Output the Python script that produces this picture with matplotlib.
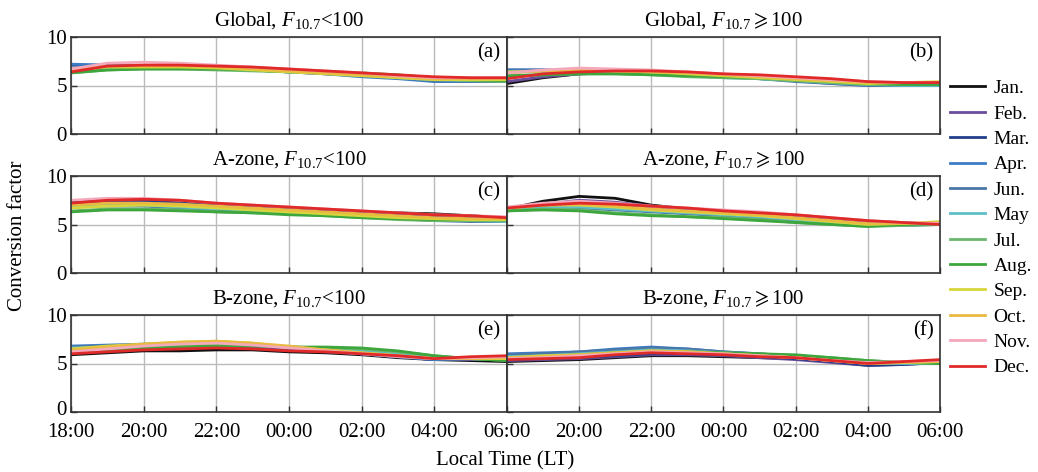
import numpy as np
import matplotlib
matplotlib.use("Agg")
import matplotlib.pyplot as plt
import matplotlib.transforms as mtransforms

plt.rcParams['font.family'] = ['Liberation Serif', 'DejaVu Serif', 'DejaVu Sans']
plt.rcParams['mathtext.fontset'] = 'custom'
plt.rcParams['mathtext.rm'] = 'Liberation Serif'
plt.rcParams['mathtext.it'] = 'Liberation Serif:italic'
plt.rcParams['mathtext.fallback'] = 'stix'

# local time in hours after 18:00 (24 = midnight)
hours = [18, 19, 20, 21, 22, 23, 24, 25, 26, 27, 28, 29, 30]
tick_hours = [18, 20, 22, 24, 26, 28, 30]
tick_labels = ["18:00", "20:00", "22:00", "00:00", "02:00", "04:00", "06:00"]

months = ["Jan.", "Feb.", "Mar.", "Apr.", "Jun.", "May", "Jul.", "Aug.",
          "Sep.", "Oct.", "Nov.", "Dec."]
colors = ["#111111", "#6a4c9c", "#233f8c", "#3b7cc4", "#4a77a6", "#5fbfc9",
          "#6cb86e", "#3da63d", "#d6d63c", "#e9b940", "#f4a8bb", "#e02a2a"]

titles = ["Global, $F_{\\rm 10.7}$<100", "Global, $F_{\\rm 10.7}\\geqslant$100",
          "A-zone, $F_{\\rm 10.7}$<100", "A-zone, $F_{\\rm 10.7}\\geqslant$100",
          "B-zone, $F_{\\rm 10.7}$<100", "B-zone, $F_{\\rm 10.7}\\geqslant$100"]
letters = ["(a)", "(b)", "(c)", "(d)", "(e)", "(f)"]

# conversion factors, one row per month (order as in legend)
global_low = [
    [6.4, 6.9, 7.0, 7.0, 6.9, 6.8, 6.6, 6.4, 6.2, 6.0, 5.8, 5.7, 5.6],
    [6.5, 6.9, 7.0, 7.0, 6.9, 6.8, 6.6, 6.4, 6.2, 6.0, 5.7, 5.7, 5.6],
    [7.1, 7.1, 7.0, 6.9, 6.8, 6.6, 6.4, 6.2, 6.0, 5.8, 5.5, 5.5, 5.5],
    [7.2, 7.1, 7.0, 6.9, 6.8, 6.6, 6.4, 6.2, 5.9, 5.7, 5.4, 5.4, 5.4],
    [6.8, 6.9, 6.9, 6.9, 6.8, 6.6, 6.4, 6.3, 6.1, 5.8, 5.5, 5.4, 5.4],
    [6.7, 6.8, 6.9, 6.8, 6.7, 6.6, 6.4, 6.3, 6.1, 5.8, 5.6, 5.5, 5.5],
    [6.3, 6.6, 6.7, 6.7, 6.6, 6.5, 6.4, 6.3, 6.2, 6.0, 5.7, 5.5, 5.4],
    [6.3, 6.6, 6.7, 6.7, 6.7, 6.6, 6.4, 6.4, 6.3, 6.1, 5.8, 5.6, 5.5],
    [6.6, 6.9, 6.9, 6.9, 6.8, 6.6, 6.4, 6.2, 6.0, 5.8, 5.6, 5.6, 5.6],
    [6.7, 7.0, 7.0, 7.0, 6.9, 6.7, 6.5, 6.3, 6.1, 5.9, 5.7, 5.7, 5.7],
    [6.7, 7.3, 7.4, 7.3, 7.1, 6.9, 6.7, 6.5, 6.3, 6.0, 5.8, 5.8, 5.8],
    [6.4, 7.0, 7.1, 7.1, 7.0, 6.9, 6.7, 6.5, 6.3, 6.1, 5.9, 5.8, 5.8],
]
global_high = [
    [5.2, 5.8, 6.2, 6.3, 6.3, 6.2, 6.1, 6.0, 5.8, 5.6, 5.3, 5.2, 5.2],
    [5.4, 5.9, 6.2, 6.3, 6.3, 6.2, 6.0, 5.9, 5.7, 5.5, 5.2, 5.1, 5.1],
    [6.6, 6.6, 6.5, 6.4, 6.3, 6.1, 6.0, 5.8, 5.6, 5.3, 5.1, 5.0, 5.0],
    [6.6, 6.6, 6.5, 6.4, 6.3, 6.1, 5.9, 5.7, 5.5, 5.2, 5.0, 5.0, 5.0],
    [6.5, 6.5, 6.5, 6.4, 6.2, 6.0, 5.9, 5.7, 5.4, 5.2, 5.0, 5.0, 5.0],
    [6.4, 6.4, 6.4, 6.3, 6.2, 6.0, 5.8, 5.7, 5.5, 5.3, 5.1, 5.0, 5.0],
    [6.0, 6.1, 6.2, 6.2, 6.1, 5.9, 5.8, 5.7, 5.5, 5.3, 5.1, 5.1, 5.1],
    [6.0, 6.1, 6.2, 6.2, 6.1, 6.0, 5.9, 5.8, 5.6, 5.4, 5.2, 5.1, 5.1],
    [6.4, 6.5, 6.6, 6.5, 6.4, 6.2, 6.0, 5.8, 5.6, 5.4, 5.2, 5.3, 5.4],
    [6.3, 6.5, 6.6, 6.5, 6.4, 6.3, 6.1, 5.9, 5.7, 5.5, 5.3, 5.3, 5.3],
    [6.3, 6.6, 6.8, 6.7, 6.6, 6.4, 6.2, 6.0, 5.8, 5.6, 5.4, 5.3, 5.3],
    [5.7, 6.2, 6.4, 6.5, 6.5, 6.4, 6.2, 6.1, 5.9, 5.7, 5.4, 5.3, 5.3],
]
azone_low = [
    [7.0, 7.2, 7.3, 7.2, 7.0, 6.8, 6.6, 6.4, 6.3, 6.2, 6.1, 5.9, 5.7],
    [7.1, 7.3, 7.4, 7.3, 7.0, 6.8, 6.6, 6.4, 6.2, 6.0, 5.9, 5.8, 5.6],
    [7.3, 7.5, 7.5, 7.3, 7.0, 6.8, 6.6, 6.4, 6.2, 6.0, 5.8, 5.6, 5.5],
    [7.0, 7.1, 7.1, 6.9, 6.7, 6.5, 6.3, 6.1, 5.9, 5.7, 5.5, 5.4, 5.3],
    [6.8, 6.9, 6.9, 6.7, 6.5, 6.3, 6.2, 6.0, 5.8, 5.6, 5.4, 5.3, 5.3],
    [6.9, 7.0, 7.0, 6.8, 6.6, 6.5, 6.3, 6.1, 5.9, 5.7, 5.5, 5.4, 5.3],
    [6.4, 6.6, 6.6, 6.5, 6.3, 6.2, 6.1, 5.9, 5.7, 5.5, 5.4, 5.4, 5.4],
    [6.3, 6.5, 6.5, 6.4, 6.3, 6.2, 6.0, 5.9, 5.7, 5.6, 5.5, 5.5, 5.5],
    [6.7, 6.9, 7.0, 6.9, 6.7, 6.5, 6.3, 6.1, 5.9, 5.7, 5.6, 5.5, 5.5],
    [7.0, 7.2, 7.2, 7.1, 6.9, 6.7, 6.5, 6.3, 6.1, 5.9, 5.7, 5.6, 5.6],
    [7.5, 7.7, 7.7, 7.5, 7.2, 7.0, 6.8, 6.6, 6.4, 6.2, 6.0, 5.9, 5.8],
    [7.2, 7.5, 7.6, 7.5, 7.2, 7.0, 6.8, 6.6, 6.4, 6.2, 6.0, 5.9, 5.7],
]
azone_high = [
    [6.6, 7.4, 7.9, 7.7, 7.0, 6.6, 6.4, 6.2, 5.9, 5.6, 5.3, 5.2, 5.0],
    [6.6, 7.1, 7.5, 7.3, 6.9, 6.6, 6.3, 6.1, 5.8, 5.5, 5.2, 5.1, 5.0],
    [6.6, 7.0, 7.1, 6.9, 6.6, 6.4, 6.2, 6.0, 5.7, 5.4, 5.1, 5.0, 5.0],
    [6.5, 6.8, 6.8, 6.6, 6.4, 6.2, 6.0, 5.8, 5.5, 5.2, 4.9, 5.0, 5.0],
    [6.5, 6.7, 6.7, 6.5, 6.3, 6.1, 5.9, 5.7, 5.4, 5.1, 4.9, 4.9, 5.0],
    [6.5, 6.7, 6.8, 6.6, 6.4, 6.2, 6.0, 5.8, 5.5, 5.2, 4.9, 5.0, 5.0],
    [6.4, 6.6, 6.5, 6.2, 6.0, 5.8, 5.7, 5.5, 5.2, 5.0, 4.8, 4.9, 5.0],
    [6.4, 6.5, 6.4, 6.1, 5.9, 5.8, 5.6, 5.4, 5.2, 5.0, 4.8, 5.0, 5.1],
    [6.7, 7.0, 7.0, 6.8, 6.5, 6.3, 6.1, 5.9, 5.6, 5.3, 5.0, 5.1, 5.3],
    [6.7, 7.0, 7.1, 6.9, 6.6, 6.4, 6.2, 6.0, 5.7, 5.4, 5.1, 5.1, 5.2],
    [6.8, 7.2, 7.4, 7.2, 6.9, 6.7, 6.5, 6.3, 6.0, 5.7, 5.4, 5.2, 5.1],
    [6.7, 7.0, 7.2, 7.1, 6.9, 6.7, 6.4, 6.2, 6.0, 5.7, 5.4, 5.2, 5.0],
]
bzone_low = [
    [5.9, 6.1, 6.3, 6.3, 6.4, 6.4, 6.2, 6.1, 5.9, 5.6, 5.4, 5.3, 5.2],
    [6.1, 6.3, 6.5, 6.6, 6.7, 6.6, 6.4, 6.2, 6.0, 5.7, 5.4, 5.4, 5.4],
    [6.5, 6.7, 6.9, 7.0, 7.0, 6.9, 6.6, 6.3, 6.0, 5.7, 5.4, 5.5, 5.6],
    [6.8, 6.9, 7.0, 7.1, 7.1, 6.9, 6.6, 6.3, 6.0, 5.7, 5.4, 5.5, 5.6],
    [6.7, 6.8, 6.9, 7.0, 7.0, 6.9, 6.6, 6.4, 6.1, 5.8, 5.5, 5.5, 5.6],
    [6.6, 6.7, 6.9, 7.0, 7.1, 6.9, 6.7, 6.5, 6.3, 6.0, 5.6, 5.5, 5.5],
    [6.3, 6.5, 6.7, 6.9, 7.0, 6.9, 6.7, 6.6, 6.5, 6.2, 5.8, 5.5, 5.3],
    [6.2, 6.4, 6.6, 6.7, 6.8, 6.8, 6.7, 6.7, 6.6, 6.3, 5.8, 5.5, 5.3],
    [6.5, 6.8, 7.0, 7.2, 7.3, 7.1, 6.7, 6.4, 6.1, 5.8, 5.5, 5.5, 5.5],
    [6.4, 6.7, 7.0, 7.2, 7.3, 7.1, 6.8, 6.4, 6.1, 5.8, 5.5, 5.5, 5.6],
    [6.2, 6.5, 6.8, 7.0, 7.1, 6.9, 6.6, 6.3, 6.0, 5.7, 5.5, 5.6, 5.7],
    [6.0, 6.2, 6.4, 6.5, 6.6, 6.5, 6.3, 6.2, 6.0, 5.8, 5.5, 5.7, 5.8],
]
bzone_high = [
    [5.2, 5.3, 5.4, 5.6, 5.8, 5.8, 5.7, 5.6, 5.5, 5.3, 5.1, 5.1, 5.2],
    [5.3, 5.4, 5.5, 5.7, 5.9, 5.9, 5.8, 5.6, 5.4, 5.1, 4.8, 4.9, 5.1],
    [5.4, 5.5, 5.6, 5.8, 6.0, 6.0, 5.9, 5.7, 5.5, 5.2, 4.8, 4.9, 5.1],
    [6.0, 6.1, 6.2, 6.5, 6.7, 6.5, 6.2, 6.0, 5.7, 5.4, 5.0, 5.0, 5.0],
    [5.9, 6.0, 6.2, 6.4, 6.6, 6.5, 6.2, 6.0, 5.7, 5.4, 5.1, 5.0, 5.0],
    [5.7, 5.8, 6.0, 6.2, 6.4, 6.3, 6.1, 5.9, 5.7, 5.4, 5.1, 5.0, 5.0],
    [5.6, 5.7, 5.9, 6.1, 6.2, 6.2, 6.1, 6.0, 5.8, 5.6, 5.3, 5.1, 5.0],
    [5.6, 5.7, 5.9, 6.1, 6.2, 6.2, 6.1, 6.0, 5.9, 5.6, 5.3, 5.1, 5.0],
    [5.6, 5.8, 5.9, 6.1, 6.3, 6.2, 6.0, 5.8, 5.6, 5.3, 5.0, 5.1, 5.2],
    [5.6, 5.7, 5.9, 6.1, 6.3, 6.2, 6.0, 5.8, 5.6, 5.3, 5.0, 5.1, 5.2],
    [5.5, 5.6, 5.8, 6.0, 6.2, 6.1, 6.0, 5.8, 5.6, 5.3, 5.1, 5.2, 5.3],
    [5.4, 5.5, 5.6, 5.9, 6.1, 6.0, 5.9, 5.7, 5.6, 5.3, 5.0, 5.2, 5.4],
]

panels = [global_low, global_high, azone_low, azone_high, bzone_low, bzone_high]

fig = plt.figure(figsize=(10.38, 4.72), dpi=100)

lefts = [71 / 1038, 507 / 1038]
widths = [436 / 1038, 433 / 1038]
tops = [37, 176, 315]
h = 97 / 472

for k, data in enumerate(panels):
    row, col = divmod(k, 2)
    ax = fig.add_axes([lefts[col], 1 - (tops[row] + 97) / 472, widths[col], h])
    for vals, c in zip(data, colors):
        ax.plot(hours, vals, color=c, lw=2.0, solid_capstyle='round')
    ax.set_xlim(18, 30)
    ax.set_ylim(0, 10)
    ax.set_xticks(tick_hours)
    ax.set_yticks([0, 5, 10])
    ax.grid(True, color="#bbbbbb", lw=1.0)
    ax.set_axisbelow(True)
    ax.tick_params(direction='in', length=4, width=1, labelsize=15, color="#333333")
    ax.tick_params(axis='x', pad=8)
    ax.tick_params(axis='y', pad=3)
    for sp in ax.spines.values():
        sp.set_color("#333333")
        sp.set_linewidth(1.2)
    if row == 2:
        if col == 0:
            ax.set_xticklabels(tick_labels)
            # nudge the lowest y label up a little so it clears "18:00"
            lab0 = ax.get_yticklabels()[0]
            lab0.set_transform(lab0.get_transform() +
                               mtransforms.ScaledTranslation(0, 3 / 72, fig.dpi_scale_trans))
        else:
            ax.set_xticklabels([""] + tick_labels[1:])
    else:
        ax.set_xticklabels([])
    if col == 1:
        ax.set_yticklabels([])
    ax.set_title(titles[k], fontsize=15, pad=8)
    ax.text(0.985, 0.94, letters[k], transform=ax.transAxes, ha='right', va='top', fontsize=15)

fig.text(18 / 1038, 0.5, "Conversion factor", rotation=90, ha='center', va='center', fontsize=15)
fig.text(505 / 1038, 1 - 461 / 472, "Local Time (LT)", ha='center', va='center', fontsize=15)

handles = [plt.Line2D([], [], color=c, lw=2) for c in colors]
fig.legend(handles, months, loc='center left', bbox_to_anchor=(950 / 1038, 1 - 228 / 472),
           frameon=False, fontsize=14, handlelength=1.8, labelspacing=0.4, handletextpad=0.45,
           borderpad=0, borderaxespad=0)

fig.savefig("out.png", dpi=100)
